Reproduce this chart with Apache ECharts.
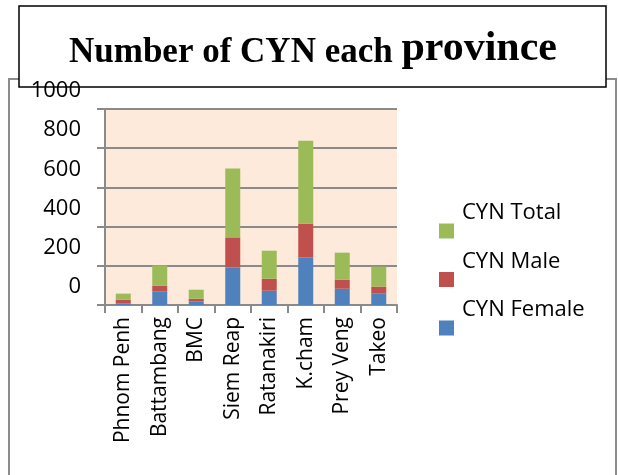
<!DOCTYPE html>
<html>
<head>
<meta charset="utf-8">
<script src="https://cdn.jsdelivr.net/npm/echarts@6/dist/echarts.min.js"></script>
<style>
  html, body { margin: 0; padding: 0; background: #fff; }
  #chart { width: 618px; height: 475px; }
</style>
</head>
<body>
<div id="chart"></div>
<script>
// data
var provinces = ['Phnom Penh', 'Battambang', 'BMC', 'Siem Reap', 'Ratanakiri', 'K.cham', 'Prey Veng', 'Takeo'];
var cynFemale = [7, 70, 19, 192, 73, 243, 83, 60];
var cynMale = [20, 29, 13, 153, 61, 172, 46, 34];
var cynTotal = [31, 103, 46, 351, 143, 423, 138, 102];
var yTicks = [0, 200, 400, 600, 800, 1000];

var myChart = echarts.init(document.getElementById('chart'));

var font = 'Open Sans';

var option = {
  animation: false,
  backgroundColor: '#ffffff',
  title: {
    text: '{a|Number of CYN each }{b|province}',
    left: 69,
    top: 28,
    padding: 0,
    textStyle: {
      rich: {
        a: { fontFamily: 'Liberation Serif', fontWeight: 'bold', fontSize: 35, color: '#000', verticalAlign: 'bottom' },
        b: { fontFamily: 'Liberation Serif', fontWeight: 'bold', fontSize: 42, color: '#000', verticalAlign: 'bottom' }
      }
    }
  },
  graphic: [
    {
      type: 'rect', z: -20,
      shape: { x: 9, y: 79, width: 607, height: 420 },
      style: { fill: '#fff', stroke: '#8c8c8c', lineWidth: 2 }
    },
    {
      type: 'rect', z: -10,
      shape: { x: 19, y: 6, width: 587, height: 81 },
      style: { fill: '#fff', stroke: '#000', lineWidth: 1.5 }
    }
  ],
  legend: {
    orient: 'vertical',
    left: 439,
    top: 202,
    padding: 0,
    itemWidth: 15,
    itemHeight: 15,
    itemGap: 12,
    icon: 'rect',
    data: ['CYN Total', 'CYN Male', 'CYN Female'],
    formatter: function (name) { return '{t|' + name + '}'; },
    textStyle: {
      rich: {
        t: { fontFamily: font, fontSize: 22, color: '#000', padding: [0, 0, 36, 3] }
      }
    }
  },
  grid: { left: 105, top: 109, right: 221, bottom: 170, backgroundColor: '#fdeada', show: true, borderWidth: 0 },
  xAxis: {
    type: 'category',
    data: provinces,
    axisLine: { lineStyle: { color: '#8a8a8a', width: 2 } },
    axisTick: { show: true, length: 8, lineStyle: { color: '#8a8a8a', width: 2 } },
    axisLabel: { rotate: 90, margin: 12, interval: 0, fontFamily: font, fontSize: 21, color: '#000' }
  },
  yAxis: {
    type: 'value',
    min: yTicks[0],
    max: yTicks[yTicks.length - 1],
    interval: 200,
    axisLine: { show: true, lineStyle: { color: '#8a8a8a', width: 2 } },
    axisTick: { show: true, length: 8, lineStyle: { color: '#8a8a8a', width: 2 } },
    splitLine: { lineStyle: { color: '#8a8a8a', width: 2 } },
    axisLabel: {
      margin: 24,
      formatter: function (v) { return '{v|' + v + '}'; },
      rich: {
        v: { fontFamily: font, fontSize: 22, color: '#000', padding: [0, 0, 36, 0] }
      }
    }
  },
  series: [
    { name: 'CYN Female', type: 'bar', stack: 'cyn', barWidth: 15, data: cynFemale, itemStyle: { color: '#4f81bd' } },
    { name: 'CYN Male', type: 'bar', stack: 'cyn', barWidth: 15, data: cynMale, itemStyle: { color: '#c0504d' } },
    { name: 'CYN Total', type: 'bar', stack: 'cyn', barWidth: 15, data: cynTotal, itemStyle: { color: '#9bbb59' } }
  ]
};

option && myChart.setOption(option);
</script>
</body>
</html>
